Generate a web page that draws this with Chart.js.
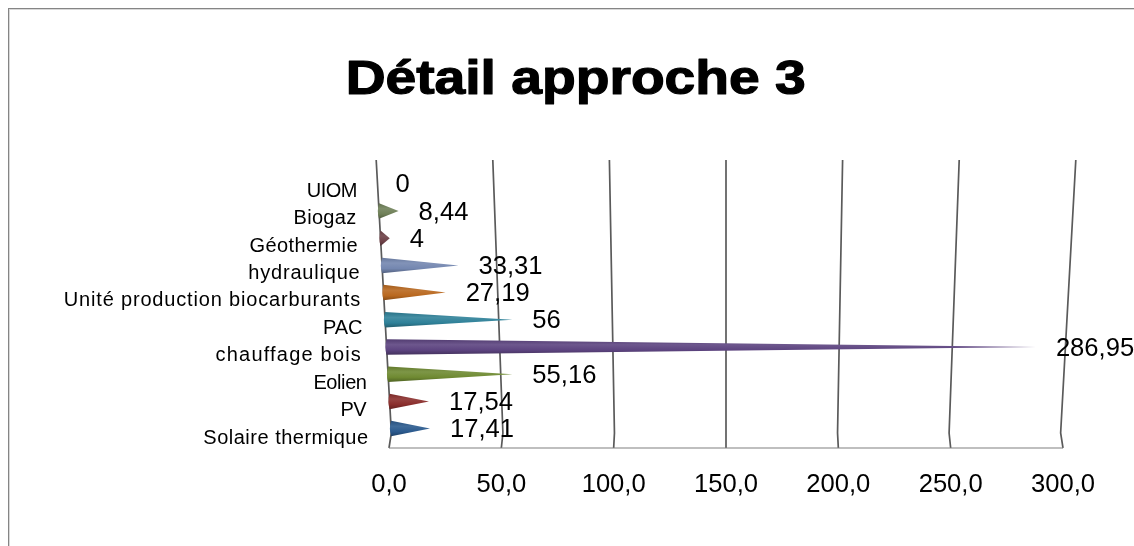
<!DOCTYPE html>
<html lang="fr">
<head>
<meta charset="utf-8">
<title>Détail approche 3</title>
<style>
html,body{margin:0;padding:0;background:#fff;overflow:hidden}
canvas{display:block}
</style>
<script src="https://cdn.jsdelivr.net/npm/chart.js@4"></script>
</head>
<body>
<canvas id="c" width="1134" height="546"></canvas>
<script>
const categories = ["UIOM","Biogaz","Géothermie","hydraulique","Unité production biocarburants","PAC","chauffage bois","Eolien","PV","Solaire thermique"];
const values = [0,8.44,4,33.31,27.19,56,286.95,55.16,17.54,17.41];
const valueLabels = ["0","8,44","4","33,31","27,19","56","286,95","55,16","17,54","17,41"];
const coneColors = ["#4f81bd","#6f8058","#6e4248","#7487b0","#b9681f","#2f8199","#5d4480","#6f8a32","#8a2e2c","#2b5a8e"];
// The reference's labels are set with uneven hinted spacing.
const labelSpacing = [-0.5,0.3,0.4,0.8,0.83,0,1.2,-0.4,-0.5,0.5];
const labelNudge = [0,-2,-2,-1,-2,-2,-4,-1,-3,-1];
const titleText = 'Détail approche 3';
const FONT = '"Liberation Sans", Arial, sans-serif';

// Perspective of the 3D wall: horizontal stretch that depends on the height on screen.
const VP_X = 726, WALL_TOP = 160, WALL_KINK = 433, FLOOR = 448;
function stretch(py){
  if (py >= WALL_KINK) return 0.993 + (py - WALL_KINK) / (FLOOR - WALL_KINK) * 0.007;
  return 1.038 - (py - WALL_TOP) / (WALL_KINK - WALL_TOP) * 0.045;
}
function warp(px, py){ return VP_X + (px - VP_X) * stretch(py); }

function shade(hex, f){
  const n = parseInt(hex.slice(1), 16);
  const c = [n >> 16, (n >> 8) & 255, n & 255].map(v =>
    Math.round(f < 0 ? v * (1 + f) : v + (255 - v) * f));
  return `rgb(${c[0]},${c[1]},${c[2]})`;
}

const TITLE_STRETCH = 1.15, TITLE_CX = 575.7, TITLE_SIZE = 48;

const wallPlugin = {
  id: 'wall',
  afterLayout(chart){
    // The reference's title is wide and heavy: stretch and thicken the native title.
    const tb = chart.titleBlock;
    if (!tb || tb.__wrapped) return;
    tb.__wrapped = true;
    const nativeDraw = tb.draw;
    tb.draw = function(){
      const ctx = this.ctx;
      const cx = (this.left + this.right) / 2;
      const cy = this.top + this.options.padding.top + TITLE_SIZE * 0.6;
      ctx.save();
      ctx.translate(TITLE_CX, 0);
      ctx.scale(TITLE_STRETCH, 1);
      ctx.translate(-cx, 0);
      nativeDraw.call(this);
      ctx.font = `bold ${TITLE_SIZE}px ${FONT}`;
      ctx.textAlign = 'center';
      ctx.textBaseline = 'middle';
      ctx.strokeStyle = '#000';
      ctx.lineWidth = 1.2;
      ctx.lineJoin = 'round';
      ctx.strokeText(titleText, cx, cy);
      ctx.restore();
    };
  },
  beforeDraw(chart){
    const ctx = chart.ctx;
    ctx.save();
    ctx.fillStyle = '#fff';
    ctx.fillRect(0, 0, chart.width, chart.height);
    ctx.fillStyle = '#858585';
    ctx.fillRect(8, 8, chart.width - 8, 1);
    ctx.fillRect(8, 8, 1, chart.height - 8);
    ctx.fillStyle = '#d8d8d8';
    ctx.fillRect(9, 9, chart.width - 9, 1);
    ctx.fillRect(9, 9, 1, chart.height - 9);
    ctx.restore();
  },
  beforeDatasetsDraw(chart){
    const ctx = chart.ctx, x = chart.scales.x;
    ctx.save();
    ctx.strokeStyle = '#5a5a5a';
    ctx.lineWidth = 1.7;
    x.ticks.forEach(t => {
      const p = x.getPixelForValue(t.value);
      ctx.beginPath();
      ctx.moveTo(warp(p, WALL_TOP), WALL_TOP);
      ctx.lineTo(warp(p, WALL_KINK), WALL_KINK);
      ctx.lineTo(p, FLOOR);
      ctx.stroke();
    });
    ctx.strokeStyle = '#808080';
    ctx.lineWidth = 1.2;
    ctx.beginPath();
    ctx.moveTo(x.getPixelForValue(x.min), FLOOR);
    ctx.lineTo(x.getPixelForValue(x.max), FLOOR);
    ctx.stroke();
    ctx.restore();
  },
  beforeDatasetDraw(chart, args){
    const ctx = chart.ctx, meta = args.meta;
    ctx.save();
    meta.data.forEach((el, i) => {
      if (!values[i]) return;
      const r = el.height / 2, y = el.y;
      const x0 = warp(el.base, y), x1 = warp(el.x, y);
      const g = ctx.createLinearGradient(0, y - r, 0, y + r);
      const col = coneColors[i];
      g.addColorStop(0, shade(col, -0.12));
      g.addColorStop(0.35, shade(col, 0.1));
      g.addColorStop(0.7, col);
      g.addColorStop(1, shade(col, -0.28));
      ctx.fillStyle = g;
      ctx.beginPath();
      ctx.moveTo(x1, y);
      ctx.lineTo(x0, y - r);
      ctx.quadraticCurveTo(x0 - 2.4, y, x0, y + r);
      ctx.closePath();
      ctx.fill();
    });
    ctx.restore();
    return false;
  },
  afterDatasetsDraw(chart){
    const ctx = chart.ctx, yS = chart.scales.y, meta = chart.getDatasetMeta(0);
    ctx.save();
    ctx.fillStyle = '#000';
    ctx.textBaseline = 'middle';
    ctx.font = '20px ' + FONT;
    ctx.textAlign = 'right';
    categories.forEach((c, i) => {
      const py = yS.getPixelForValue(i);
      const ly = py + 7.5 + (py - 183) * 0.008;
      ctx.letterSpacing = labelSpacing[i] + 'px';
      ctx.fillText(yS.getLabelForValue(i), warp(meta.data[i].base, ly) - 21 + labelNudge[i], ly);
    });
    ctx.letterSpacing = '0px';
    ctx.font = '25.6px ' + FONT;
    ctx.textAlign = 'left';
    meta.data.forEach((el, i) => {
      ctx.fillText(valueLabels[i], warp(el.x, el.y) + (values[i] ? 20 : 18), el.y + 1.5);
    });
    ctx.restore();
  }
};

new Chart(document.getElementById('c'), {
  type: 'bar',
  data: {
    labels: categories,
    datasets: [{
      data: values,
      backgroundColor: coneColors,
      categoryPercentage: 1,
      barPercentage: 0.57
    }]
  },
  options: {
    indexAxis: 'y',
    responsive: false,
    animation: false,
    layout: { padding: { left: 86, right: 71, top: 0, bottom: 0 } },
    plugins: {
      legend: { display: false },
      tooltip: { enabled: false },
      title: {
        display: true,
        text: titleText,
        color: '#000',
        font: { family: FONT, size: TITLE_SIZE, weight: 'bold', lineHeight: 1.2 },
        padding: { top: 52, bottom: 60.6 }
      }
    },
    scales: {
      x: {
        type: 'linear',
        min: 0, max: 300,
        grid: { display: false, drawTicks: false },
        border: { display: false },
        afterFit(s){ s.height = 546 - 442.2; },
        ticks: {
          stepSize: 50,
          autoSkip: false,
          maxRotation: 0,
          padding: 27,
          color: '#000',
          font: { family: FONT, size: 25.6 },
          callback: v => v.toFixed(1).replace('.', ',')
        }
      },
      y: {
        grid: { display: false, drawTicks: false },
        border: { display: false },
        ticks: { display: false },
        afterFit(s){ s.width = 303; }
      }
    }
  },
  plugins: [wallPlugin]
});
</script>
</body>
</html>
